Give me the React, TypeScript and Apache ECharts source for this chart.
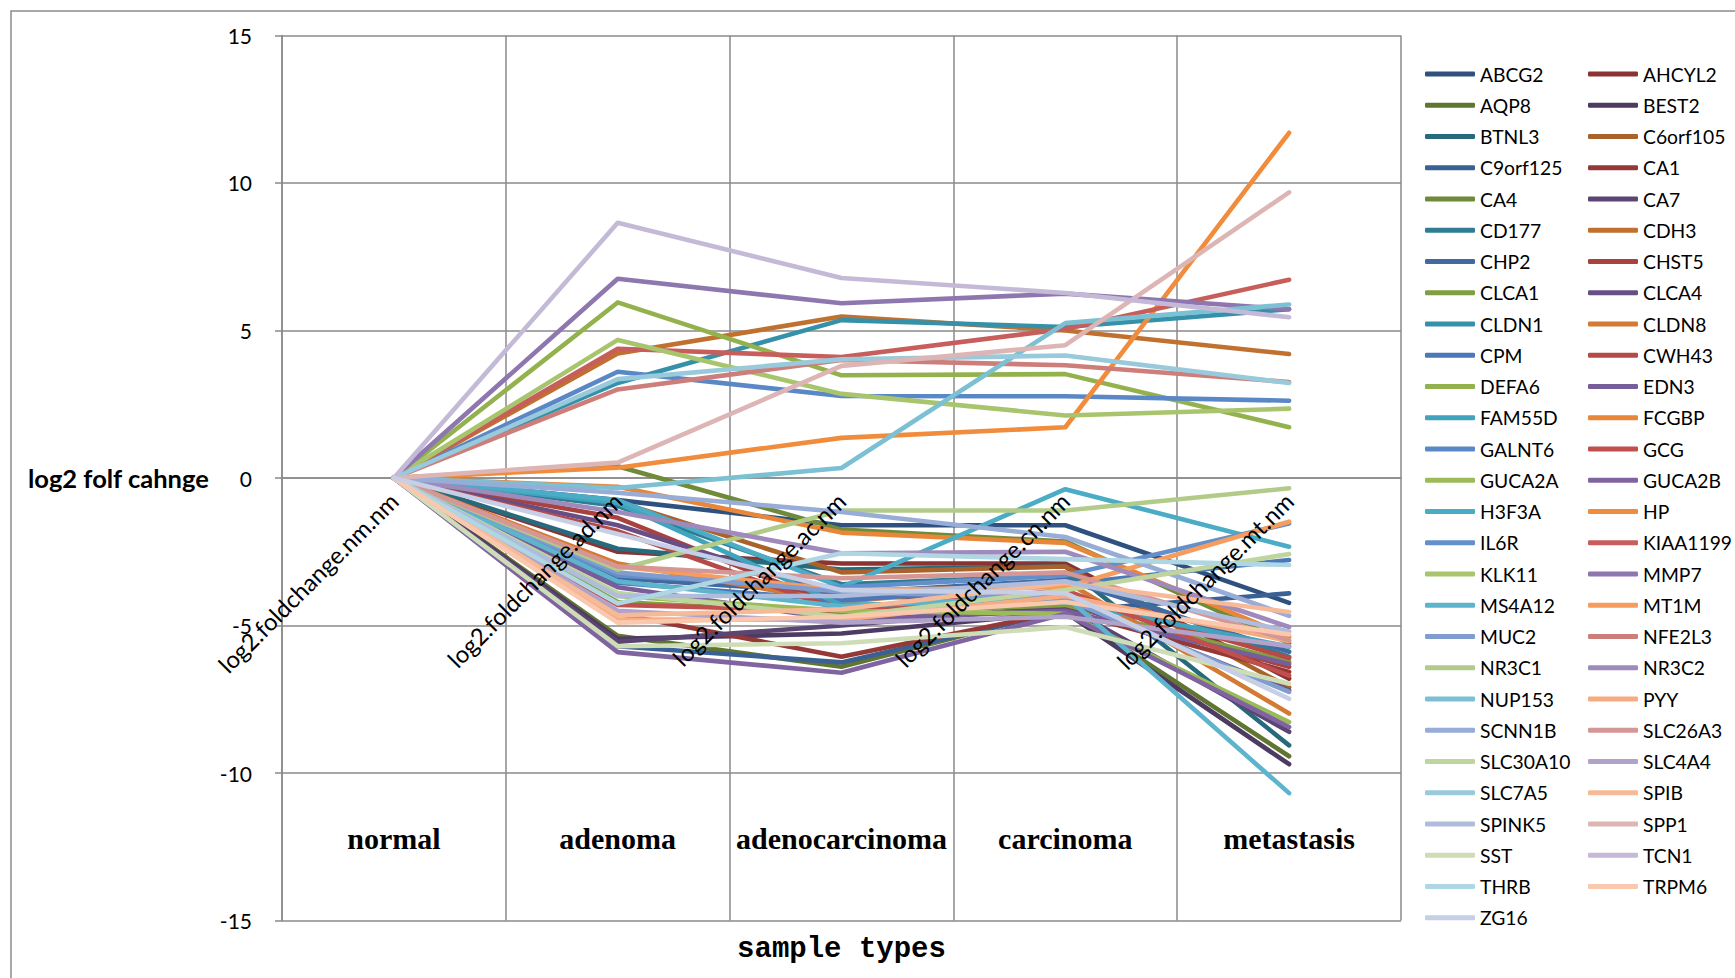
import React, { useEffect, useRef } from "react";
import * as echarts from "echarts";

const genes = [
  "ABCG2", "AHCYL2", "AQP8", "BEST2", "BTNL3", "C6orf105", "C9orf125", "CA1", "CA4", "CA7",
  "CD177", "CDH3", "CHP2", "CHST5", "CLCA1", "CLCA4", "CLDN1", "CLDN8", "CPM", "CWH43",
  "DEFA6", "EDN3", "FAM55D", "FCGBP", "GALNT6", "GCG", "GUCA2A", "GUCA2B", "H3F3A", "HP",
  "IL6R", "KIAA1199", "KLK11", "MMP7", "MS4A12", "MT1M", "MUC2", "NFE2L3", "NR3C1", "NR3C2",
  "NUP153", "PYY", "SCNN1B", "SLC26A3", "SLC30A10", "SLC4A4", "SLC7A5", "SPIB", "SPINK5", "SPP1",
  "SST", "TCN1", "THRB", "TRPM6", "ZG16",
];

const colors = [
  "#2F5180", "#8B3232", "#5F7530", "#4D3B62", "#276A7C", "#A9622A", "#3A6193", "#953937", "#6F8A38", "#5A4573",
  "#2E7D93", "#C0702F", "#4269A0", "#A8423F", "#819F41", "#674F85", "#3591AA", "#D37A35", "#4A78B8", "#B64A47",
  "#93B24E", "#775D99", "#41A3BD", "#E8873A", "#5A87C5", "#C0504D", "#9BBB59", "#8064A2", "#4BACC6", "#F08C3C",
  "#6390CA", "#C75E5B", "#A8C56D", "#8E76AE", "#5DB4CC", "#F59C5E", "#7F9DCE", "#CD7E7B", "#B3CB88", "#9E8ABB",
  "#7BC0D3", "#F6AB80", "#97ACD6", "#D49795", "#C0D59E", "#B0A2C9", "#98CADB", "#F7BA98", "#AFBCDC", "#DDB5B4",
  "#CEDDB6", "#C4BAD7", "#AED6E3", "#F9C8AE", "#C6CFE5",
];

const foldLabels = [
  "log2.foldchange.nm.nm", "log2.foldchange.ad.nm", "log2.foldchange.ac.nm",
  "log2.foldchange.cn.nm", "log2.foldchange.mt.nm",
];
const stages = ["normal", "adenoma", "adenocarcinoma", "carcinoma", "metastasis"];

const normal = [
  0, 0, 0, 0, 0, 0, 0, 0, 0, 0, 0, 0, 0, 0, 0, 0, 0, 0, 0, 0,
  0, 0, 0, 0, 0, 0, 0, 0, 0, 0, 0, 0, 0, 0, 0, 0, 0, 0, 0, 0,
  0, 0, 0, 0, 0, 0, 0, 0, 0, 0, 0, 0, 0, 0, 0,
];
const adenoma = [
  -0.75, -2.5, -5.35, -5.45, -2.4, -0.8, -5.7, -4.6, 0.4, -5.55,
  -0.95, 4.22, -3.4, -1.35, -4.2, -1.6, 3.22, -2.9, -3.55, -1.8,
  5.95, -3.7, -0.85, -0.3, 3.6, -4.3, -4.0, -5.9, -0.75, 0.35,
  -3.3, 4.38, 4.68, 6.75, -3.5, -3.0, -3.2, 3.0, -3.1, -1.15,
  -0.34, -4.8, -0.5, -3.0, -3.9, -4.5, 3.35, -4.65, -4.0, 0.52,
  -5.7, 8.65, -4.25, -4.9, -1.9,
];
const adenocarcinoma = [
  -1.6, -2.9, -6.4, -5.27, -3.1, -3.2, -6.25, -6.06, -1.75, -5.0,
  -3.6, 5.47, -3.9, -4.4, -4.6, -4.0, 5.35, -4.2, -4.15, -4.5,
  3.48, -4.8, -4.3, -1.85, 2.78, -4.5, -4.5, -6.6, -3.7, 1.36,
  -3.7, 4.1, 2.85, 5.92, -4.35, -3.8, -3.85, 4.0, -1.1, -2.55,
  0.34, -4.8, -1.15, -3.4, -4.7, -4.9, 4.02, -4.45, -4.0, 3.8,
  -5.6, 6.78, -2.55, -4.7, -3.8,
];
const carcinoma = [
  -1.6, -2.9, -4.45, -4.55, -3.0, -3.0, -4.5, -4.5, -2.15, -4.35,
  -3.3, 5.0, -3.45, -4.3, -4.3, -4.15, 5.12, -3.5, -3.6, -3.9,
  3.52, -4.5, -4.2, -2.2, 2.77, -3.8, -4.6, -4.6, -0.38, 1.72,
  -3.3, 5.05, 2.12, 6.25, -4.0, -3.7, -4.1, 3.82, -1.1, -2.5,
  5.25, -4.0, -2.0, -3.2, -3.8, -4.7, 4.15, -3.55, -3.5, 4.5,
  -5.05, 6.27, -2.75, -4.2, -3.9,
];
const metastasis = [
  -4.23, -6.8, -9.43, -9.7, -9.06, -7.1, -3.91, -6.57, -5.6, -8.6,
  -6.06, 4.2, -5.89, -6.4, -6.23, -7.2, 5.72, -7.98, -2.78, -6.1,
  1.72, -6.3, -5.72, -5.38, 2.62, -6.7, -8.27, -8.44, -2.33, 11.7,
  -1.54, 6.72, 2.35, 5.72, -10.68, -1.48, -7.25, 3.25, -0.35, -5.05,
  5.88, -5.52, -4.67, -5.5, -2.58, -5.7, 3.22, -4.54, -5.2, 9.68,
  -6.97, 5.45, -2.95, -5.3, -7.48,
];

const yTicks = { min: -15, max: 15, interval: 5 };

const GRID = "#8a8a8a";
const GRID_TOP = 35.4;
const GRID_BOTTOM = 57.4;
const CHART_H = 978;
// distance from the bottom of the plot up to the y = 0 line (the category labels sit on it)
const ZERO_OFFSET = ((CHART_H - GRID_TOP - GRID_BOTTOM) * (0 - yTicks.min)) / (yTicks.max - yTicks.min);

export default function App() {
  const ref = useRef<HTMLDivElement>(null);

  useEffect(() => {
    if (!ref.current) return;
    const chart = echarts.init(ref.current, null, { renderer: "svg" });

    const series = genes.map((g, i) => ({
      name: g,
      type: "line",
      xAxisIndex: 0,
      yAxisIndex: 0,
      data: [normal[i], adenoma[i], adenocarcinoma[i], carcinoma[i], metastasis[i]],
      showSymbol: false,
      symbol: "none",
      silent: true,
      lineStyle: { width: 4.6, color: colors[i], cap: "round", join: "round" },
      itemStyle: { color: colors[i] },
      emphasis: { disabled: true },
    }));

    const col1 = genes.filter((_, i) => i % 2 === 0);
    const col2 = genes.filter((_, i) => i % 2 === 1);
    const legendCommon = {
      orient: "vertical",
      icon: "roundRect",
      itemWidth: 50,
      itemHeight: 5,
      itemGap: 11.25,
      padding: 0,
      top: 64,
      selectedMode: false,
      textStyle: { fontFamily: "Lato", fontSize: 19.3, color: "#000", lineHeight: 20 },
    };

    chart.setOption({
      animation: false,
      backgroundColor: "#fff",
      graphic: [
        {
          type: "rect",
          silent: true,
          z: -10,
          shape: { x: 11, y: 11, width: 1800, height: 1100 },
          style: { fill: "none", stroke: "#8c8c8c", lineWidth: 1.5 },
        },
      ],
      grid: {
        left: 282,
        right: 334,
        top: GRID_TOP,
        bottom: GRID_BOTTOM,
        outerBoundsMode: "none",
        containLabel: false,
      },
      legend: [
        { ...legendCommon, left: 1425, data: col1 },
        { ...legendCommon, left: 1588, data: col2 },
      ],
      xAxis: [
        {
          type: "category",
          data: foldLabels,
          boundaryGap: true,
          position: "bottom",
          axisLine: { show: true, onZero: true, lineStyle: { color: GRID, width: 1.5 } },
          axisTick: { show: false },
          axisLabel: { show: false },
          splitLine: { show: true, lineStyle: { color: GRID, width: 1.5 } },
        },
        {
          type: "category",
          data: stages,
          boundaryGap: true,
          position: "bottom",
          offset: -105.5,
          axisLine: { show: false, onZero: false },
          axisTick: { show: false },
          splitLine: { show: false },
          axisLabel: {
            interval: 0,
            margin: 8,
            fontFamily: "Liberation Serif",
            fontWeight: "bold",
            fontSize: 30,
            color: "#000",
          },
          name: "sample types",
          nameLocation: "middle",
          nameGap: 134.5,
          nameTextStyle: {
            fontFamily: "Liberation Mono",
            fontWeight: "bold",
            fontSize: 29,
            color: "#000",
            verticalAlign: "middle",
          },
        },
        {
          type: "category",
          data: foldLabels,
          boundaryGap: true,
          position: "bottom",
          offset: -ZERO_OFFSET,
          z: 10,
          axisLine: { show: false, onZero: false },
          axisTick: { show: false },
          splitLine: { show: false },
          axisLabel: {
            interval: 0,
            rotate: 45,
            margin: 19,
            fontFamily: "Lato",
            fontSize: 23.8,
            color: "#000",
          },
        },
      ],
      yAxis: {
        type: "value",
        min: yTicks.min,
        max: yTicks.max,
        interval: yTicks.interval,
        axisLine: { show: true, lineStyle: { color: GRID, width: 1.5 } },
        axisTick: { show: true, length: 7, lineStyle: { color: GRID, width: 1.5 } },
        axisLabel: { fontFamily: "Lato", fontSize: 21, color: "#000", margin: 30 },
        splitLine: { show: true, lineStyle: { color: GRID, width: 1.5 } },
        name: "log2 folf cahnge",
        nameLocation: "middle",
        nameRotate: 0,
        nameGap: 254,
        nameTextStyle: {
          align: "left",
          verticalAlign: "middle",
          fontFamily: "Lato",
          fontWeight: "bold",
          fontSize: 25.5,
          color: "#000",
        },
      },
      series,
    });

    return () => chart.dispose();
  }, []);

  return (
    <div
      ref={ref}
      style={{ position: "fixed", left: 0, top: 0, width: 1735, height: 978, background: "#fff" }}
    />
  );
}
